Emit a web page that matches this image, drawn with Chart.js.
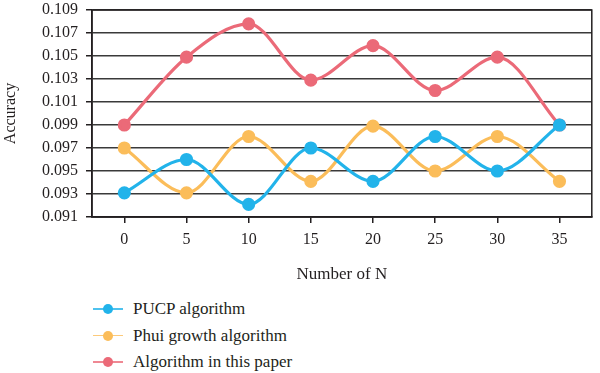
<!DOCTYPE html>
<html>
<head>
<meta charset="utf-8">
<script src="https://cdn.jsdelivr.net/npm/chart.js@4"></script>
<style>
  body { margin: 0; background: #fff; }
  #wrap { position: relative; width: 600px; height: 373px; font-family: "Liberation Serif", "Times New Roman", Times, "DejaVu Serif", serif; color: #231f20; }
  #box { position: absolute; left: 0; top: 0; width: 600px; height: 290px; }
  #legend { position: absolute; left: 93px; top: 296px; }
  .item { height: 26.5px; display: flex; align-items: center; font-size: 17px; }
  .mark { position: relative; width: 30px; height: 12px; margin-right: 10px; }
  .mark .ln { position: absolute; left: 0; right: 0; top: 5px; height: 1.5px; opacity: 0.8; }
  .mark .dot { position: absolute; left: 10px; top: 1px; width: 10px; height: 10px; border-radius: 50%; }
</style>
</head>
<body>
<div id="wrap">
  <div id="box"><canvas id="chart"></canvas></div>
  <div id="legend"></div>
</div>
<script>
const nValues = [0, 5, 10, 15, 20, 25, 30, 35];
const yTicks = [0.091, 0.093, 0.095, 0.097, 0.099, 0.101, 0.103, 0.105, 0.107, 0.109];

const pucp = [0.0931, 0.0960, 0.0921, 0.0970, 0.0941, 0.0980, 0.0950, 0.0990];
const phui = [0.0970, 0.0931, 0.0980, 0.0941, 0.0989, 0.0950, 0.0980, 0.0941];
const ours = [0.0990, 0.1049, 0.1078, 0.1029, 0.1059, 0.1020, 0.1049, 0.0990];

const seriesNames = ['PUCP algorithm', 'Phui growth algorithm', 'Algorithm in this paper'];
const seriesColors = ['#22b3ea', '#fbbd5a', '#eb6a78'];

const serif = '"Liberation Serif", "Times New Roman", Times, "DejaVu Serif", serif';
const ink = '#231f20';

function toPoints(arr){
    return arr.map((v, i) => ({x: nValues[i], y: v}));
}

// box round the plot area
const frame = {
    id: 'frame',
    beforeDatasetsDraw(chart){
        const {ctx, chartArea: a} = chart;
        ctx.save();
        ctx.strokeStyle = ink;
        ctx.lineWidth = 1.5;
        ctx.strokeRect(a.left, a.top, a.right - a.left, a.bottom - a.top);
        ctx.restore();
    }
};

const datasets = [pucp, phui, ours].map((d, i) => ({
    label: seriesNames[i],
    data: toPoints(d),
    borderColor: seriesColors[i],
    backgroundColor: seriesColors[i],
    borderWidth: 3.2,
    pointRadius: 5,
    pointHoverRadius: 5,
    cubicInterpolationMode: 'monotone',
    tension: 0.4
}));

new Chart(document.getElementById('chart'), {
    type: 'line',
    data: {datasets},
    options: {
        responsive: true,
        maintainAspectRatio: false,
        animation: false,
        layout: {padding: {top: 10, right: 3, left: 0, bottom: 0}},
        plugins: {legend: {display: false}, tooltip: {enabled: false}},
        scales: {
            x: {
                type: 'linear',
                min: -2.6,
                max: 37.6,
                afterBuildTicks: s => { s.ticks = nValues.map(v => ({value: v})); },
                afterFit: s => { s.height = 73; },
                grid: {drawOnChartArea: false, drawTicks: true, tickLength: 6, color: ink, lineWidth: 1.5},
                border: {display: true, color: ink, width: 1.5},
                ticks: {color: ink, font: {family: serif, size: 16}, padding: 7, maxRotation: 0},
                title: {display: true, text: 'Number of N', color: ink, font: {family: serif, size: 17}, padding: {top: 0, bottom: 5}}
            },
            y: {
                min: 0.091,
                max: 0.109,
                afterBuildTicks: s => { s.ticks = yTicks.map(v => ({value: v})); },
                afterFit: s => { s.width = 92; },
                grid: {
                    color: '#3a3a3a',
                    lineWidth: 1.5,
                    borderDash: [1.5, 8],
                    tickBorderDash: [],
                    tickColor: ink,
                    tickWidth: 1.5,
                    tickLength: 6
                },
                border: {display: true, color: ink, width: 1.5},
                // trailing space keeps the labels clear of the tick marks
                ticks: {color: ink, font: {family: serif, size: 16}, padding: 0, callback: v => v.toFixed(3) + '  '},
                title: {display: true, text: 'Accuracy', color: ink, font: {family: serif, size: 16}, padding: {top: 1, bottom: 0}}
            }
        }
    },
    plugins: [frame]
});

// legend stacked below the chart
const legend = document.getElementById('legend');
seriesNames.forEach((name, i) => {
    const row = document.createElement('div');
    row.className = 'item';
    row.innerHTML = `<span class="mark"><span class="ln" style="background:${seriesColors[i]}"></span><span class="dot" style="background:${seriesColors[i]}"></span></span><span>${name}</span>`;
    legend.appendChild(row);
});
</script>
</body>
</html>
